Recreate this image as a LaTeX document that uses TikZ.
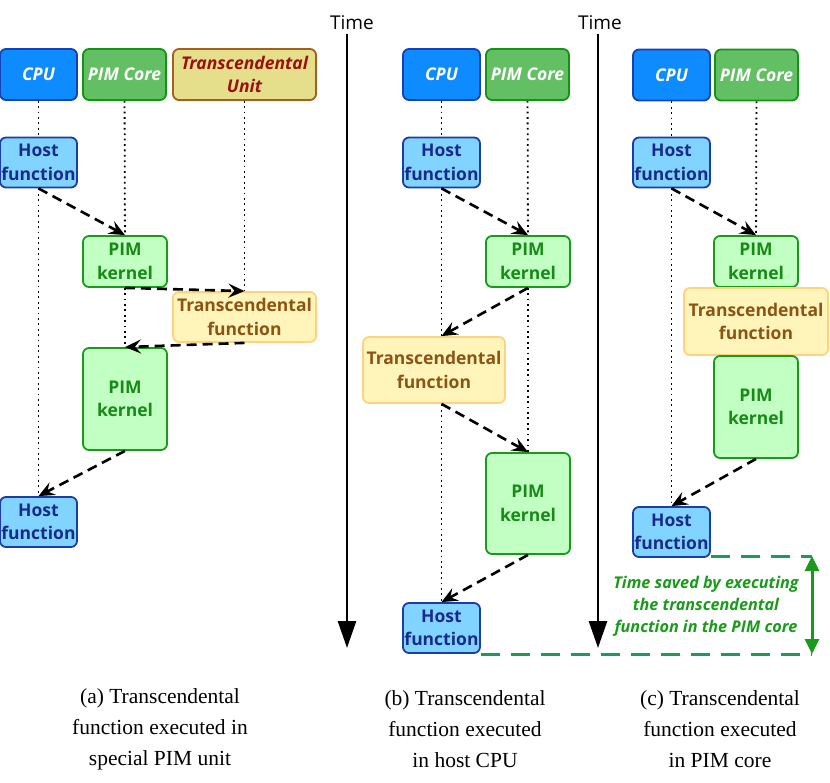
\documentclass[tikz,border=0pt]{standalone}
\usepackage{fontspec}
\setmainfont{Liberation Serif}
\newfontfamily\boxfont{Open Sans}
\usetikzlibrary{arrows.meta,calc,backgrounds}
\definecolor{cpufill}{HTML}{0D8BFF}
\definecolor{cpuline}{HTML}{1640B5}
\definecolor{corefill}{HTML}{63BF63}
\definecolor{coreline}{HTML}{139413}
\definecolor{unitfill}{HTML}{E5DE8A}
\definecolor{unitline}{HTML}{A0601E}
\definecolor{unittext}{HTML}{9A1010}
\definecolor{hostfill}{HTML}{80D4FF}
\definecolor{hostline}{HTML}{1C3CA8}
\definecolor{hosttext}{HTML}{1A2A8C}
\definecolor{kernfill}{HTML}{C2FFC2}
\definecolor{kernline}{HTML}{1A9A1A}
\definecolor{kerntext}{HTML}{178A17}
\definecolor{transfill}{HTML}{FFF5BA}
\definecolor{transline}{HTML}{FFD27F}
\definecolor{transtext}{HTML}{8C5414}
\definecolor{saveline}{HTML}{1A9A5C}
\definecolor{savetext}{HTML}{1A9A1A}
\newcommand{\bfnt}{\boxfont\bfseries\fontsize{17.5}{23.5}\selectfont}
\newcommand{\capfnt}{\fontsize{21.5}{31}\selectfont}
\tikzset{
  blk/.style={rounded corners=6pt,line width=1.8pt,align=center,inner sep=0pt,font=\bfnt},
  hdcpu/.style={blk,draw=cpuline,fill=cpufill,text=white,font=\bfnt\itshape,minimum width=77pt,minimum height=51pt},
  hdcore/.style={blk,draw=coreline,fill=corefill,text=white,font=\bfnt\itshape,minimum width=83pt,minimum height=51pt},
  hdunit/.style={blk,draw=unitline,fill=unitfill,text=unittext,font=\bfnt\itshape,minimum width=143pt,minimum height=51pt},
  hostfn/.style={blk,draw=hostline,fill=hostfill,text=hosttext,minimum width=77pt,minimum height=50pt},
  kern/.style={blk,draw=kernline,fill=kernfill,text=kerntext,minimum width=84pt},
  transfn/.style={blk,draw=transline,fill=transfill,text=transtext,minimum width=143pt},
  life/.style={line width=1.8pt,dash pattern=on 1.8pt off 3.6pt},
  call/.style={line width=2.6pt,dash pattern=on 10pt off 6pt,-{Stealth[length=16pt,width=14pt,inset=6pt]}},
  timeline/.style={line width=2.8pt,-{Triangle[length=27pt,width=18pt]}},
  savedash/.style={saveline,line width=3pt,dash pattern=on 19pt off 11pt},
  savearrow/.style={savetext,line width=3pt,{Triangle[length=15pt,width=14pt]}-{Triangle[length=15pt,width=14pt]}}
}

\begin{document}
\begin{tikzpicture}[x=1pt,y=-1pt]
\useasboundingbox (0,0) rectangle (830,783);
% (a) special PIM unit
\node[hdcpu] (cpua) at (38.5,74.5) {CPU};
\node[hdcore] (corea) at (124.5,74.5) {PIM Core};
\node[hdunit] (unita) at (244.5,74.5) {Transcendental\\Unit};
\node[hostfn] (hosta1) at (38.5,162.5) {Host\\function};
\node[kern,minimum height=51pt] (kerna1) at (125,261.5) {PIM\\kernel};
\node[transfn,minimum height=50pt] (transa) at (244.5,317) {Transcendental\\function};
\node[kern,minimum height=102pt] (kerna2) at (125,399) {PIM\\kernel};
\node[hostfn] (hosta2) at (38.5,522) {Host\\function};
% (b) host CPU
\node (timeb) at (352,23) {\boxfont\fontsize{19}{22}\selectfont Time};
\coordinate (timebend) at (347,648);
\node[hdcpu] (cpub) at (441.5,74.5) {CPU};
\node[hdcore] (coreb) at (527.5,74.5) {PIM Core};
\node[hostfn] (hostb1) at (441.5,162.5) {Host\\function};
\node[kern,minimum height=51pt] (kernb1) at (528,261.5) {PIM\\kernel};
\node[transfn,minimum width=142pt,minimum height=66pt] (transb) at (434,370) {Transcendental\\function};
\node[kern,minimum height=101pt] (kernb2) at (528,503.5) {PIM\\kernel};
\node[hostfn] (hostb2) at (441.5,628) {Host\\function};
% (c) PIM core
\node (timec) at (600,23) {\boxfont\fontsize{19}{22}\selectfont Time};
\coordinate (timecend) at (598,648);
\node[hdcpu] (cpuc) at (671.5,75) {CPU};
\node[hdcore] (corec) at (756.5,75) {PIM Core};
\node[hostfn] (hostc1) at (671.5,162.5) {Host\\function};
\node[kern,minimum height=51pt] (kernc1) at (756,261.5) {PIM\\kernel};
\node[transfn,minimum width=144pt,minimum height=67pt] (transc) at (756,321.5) {Transcendental\\function};
\node[kern,minimum height=102pt] (kernc2) at (756,407) {PIM\\kernel};
\node[hostfn] (hostc2) at (671.5,532) {Host\\function};
% lifelines
\begin{scope}[on background layer]
\draw[life] (cpua) -- (hosta1); \draw[life] (hosta1) -- (hosta2);
\draw[life] (corea) -- (kerna1); \draw[life] (kerna1) -- (kerna2);
\draw[life] (unita) -- (transa);
\draw[life] (cpub) -- (hostb1); \draw[life] (hostb1) -- (hostb2);
\draw[life] (coreb) -- (kernb1); \draw[life] (kernb1) -- (kernb2);
\draw[life] (cpuc) -- (hostc1); \draw[life] (hostc1) -- (hostc2);
\draw[life] (corec) -- (kernc1);
\end{scope}
% calls
\draw[call] (hosta1.south) -- (kerna1.north);
\draw[call] (kerna1.south) -- (transa.north);
\draw[call] (transa.south) -- (kerna2.north);
\draw[call] (kerna2.south) -- (hosta2.north);
\draw[call] (hostb1.south) -- (kernb1.north);
\draw[call] (kernb1.south) -- (transb.north -| hostb1.south);
\draw[call] (transb.south -| hostb1.south) -- (kernb2.north);
\draw[call] (kernb2.south) -- (hostb2.north);
\draw[call] (hostc1.south) -- (kernc1.north);
\draw[call] (kernc2.south) -- (hostc2.north);
% time axes
\draw[timeline] (timeb.south -| timebend) -- (timebend);
\draw[timeline] (timec.south -| timecend) -- (timecend);
% time saved
\coordinate (svtop) at (812,556);
\coordinate (svbot) at (812,654);
\draw[savedash] (hostc2.south east |- svtop) -- (svtop);
\draw[savedash] (hostb2.south east |- svbot) -- (svbot);
\draw[savearrow] (svtop) -- (svbot);
\node[text=savetext,align=center,font=\boxfont\bfseries\itshape\fontsize{16.2}{22}\selectfont] (svtext) at (706,606) {Time saved by executing\\the transcendental\\function in the PIM core};
% captions
\node[align=center,font=\capfnt] (capa) at (160,729) {(a) Transcendental\\function executed in\\special PIM unit};
\node[align=center,font=\capfnt] (capb) at (465,729) {(b) Transcendental\\function executed\\in host CPU};
\node[align=center,font=\capfnt] (capc) at (720,729) {(c) Transcendental\\function executed\\in PIM core};
\end{tikzpicture}
\end{document}
